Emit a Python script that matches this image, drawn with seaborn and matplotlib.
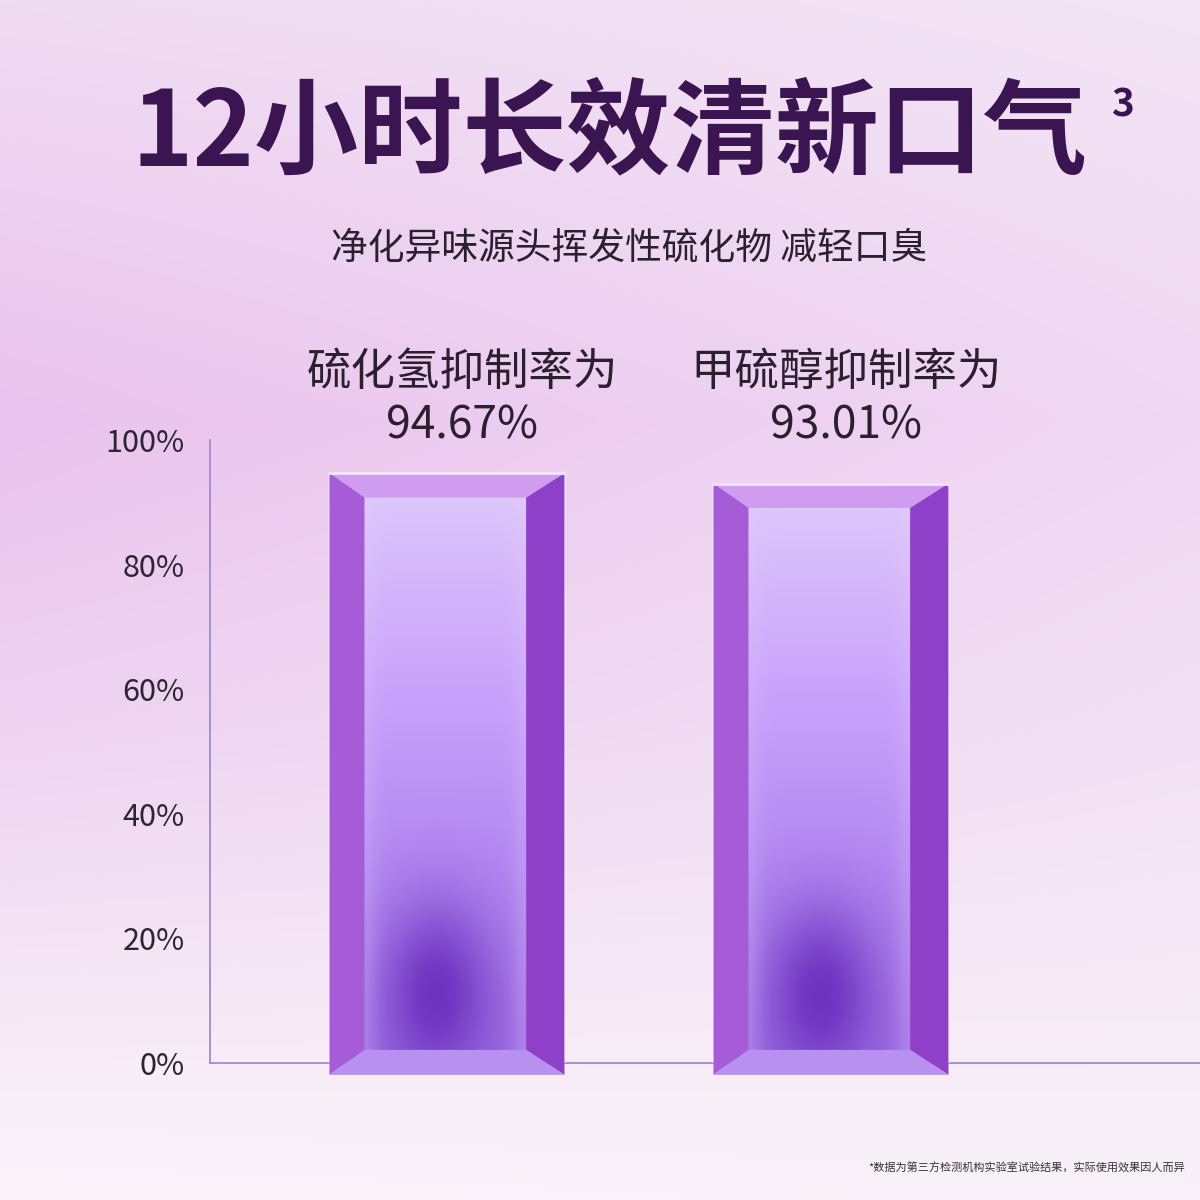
import numpy as np
import matplotlib
matplotlib.use("Agg")
import matplotlib.pyplot as plt
from matplotlib.patches import Polygon
from matplotlib.colors import to_rgb
import seaborn as sns

# 数据
categories = ["硫化氢抑制率为", "甲硫醇抑制率为"]
values = [94.67, 93.01]
value_labels = ["94.67%", "93.01%"]
y_ticks = [0, 20, 40, 60, 80, 100]
y_tick_labels = ["0%", "20%", "40%", "60%", "80%", "100%"]

title = "12小时长效清新口气"
subtitle = "净化异味源头挥发性硫化物 减轻口臭"
footnote = "*数据为第三方检测机构实验室试验结果，实际使用效果因人而异"

sns.set_theme(style="white")
plt.rcParams['font.family'] = ['Noto Sans CJK SC', 'DejaVu Sans']

fig = plt.figure(figsize=(12, 12), dpi=100)


def blend(stops, t):
    # stops: list of (pos, color)
    pos = np.array([s[0] for s in stops])
    cols = np.array([to_rgb(s[1]) for s in stops])
    out = np.zeros(t.shape + (3,))
    for c in range(3):
        out[..., c] = np.interp(t, pos, cols[:, c])
    return out


# 背景渐变
bg = fig.add_axes([0, 0, 1, 1], zorder=-10)
gy, gx = np.mgrid[0:1:300j, 0:1:300j]
bg_img = blend([(0, "#f0dcf2"), (0.35, "#eac3ee"), (0.6, "#eed3f1"),
                (0.85, "#f6e9f6"), (1, "#fbf5fb")], gy)
light = np.clip(gx * 0.5, 0, 1)[..., None]
bg_img = bg_img * (1 - light) + np.array(to_rgb("#f6eef8")) * light
bg.imshow(bg_img, extent=(0, 1, 0, 1), aspect="auto")
bg.axis("off")

# 主图
ax = fig.add_axes([210 / 1200, 137 / 1200, 990 / 1200, 623 / 1200])
ax.set_facecolor("none")
sns.barplot(x=categories, y=values, ax=ax, width=0.612, color="#a66ada",
            saturation=1, zorder=2)

for i, p in enumerate(ax.patches):
    x0, w, h = p.get_x(), p.get_width(), p.get_height()
    x1 = x0 + w
    xi0, xi1 = x0 + 0.149 * w, x1 - 0.162 * w
    yi1, yi0, yo0 = h - 3.9, 2.1, -1.9

    # 内面渐变
    v, u = np.mgrid[0:1:200j, 0:1:100j]
    face = blend([(0, "#dcc6fa"), (0.35, "#c8a2fb"), (0.7, "#b085ef"),
                  (1, "#a070e4")], v)
    spot = np.exp(-((u - 0.45) / 0.34) ** 2 - ((v - 0.9) / 0.16) ** 2)[..., None] * 0.8
    face = face * (1 - spot) + np.array(to_rgb("#5e22b6")) * spot
    edge = (np.exp(-(u / 0.08) ** 2) + np.exp(-((1 - u) / 0.08) ** 2))[..., None] * 0.2
    face = face * (1 - edge) + np.array(to_rgb("#e4d0ff")) * edge
    ax.imshow(face, extent=(xi0, xi1, yi0, yi1), aspect="auto", zorder=3)

    faces = [
        ([(x0, yo0), (x0, h), (xi0, yi1), (xi0, yi0)], "#a55cd6"),
        ([(x1, yo0), (x1, h), (xi1, yi1), (xi1, yi0)], "#8e40c8"),
        ([(x0, h), (x1, h), (xi1, yi1), (xi0, yi1)], "#cf9cf0"),
        ([(x0, yo0), (xi0, yi0), (xi1, yi0), (x1, yo0)], "#b890f0"),
    ]
    for pts, col in faces:
        ax.add_patch(Polygon(pts, closed=True, facecolor=col, edgecolor="none",
                             zorder=4, clip_on=False))
    ax.plot([x0, x1], [h, h], color="#f2e4fb", lw=2, zorder=5, clip_on=False)

    cx = x0 + w / 2 + 0.04
    ax.text(cx, 110.9, categories[i], ha="center", va="center", fontsize=32,
            color="#2a2030", clip_on=False)
    ax.text(cx, 102.4, value_labels[i], ha="center", va="center", fontsize=32,
            color="#2a2030", clip_on=False)

ax.set_xlim(-0.617, 1.961)
ax.set_ylim(0, 100)
ax.set_xticks([])
ax.set_xlabel("")
ax.set_yticks(y_ticks, y_tick_labels)
ax.tick_params(axis="y", length=0, pad=18, labelsize=22, labelcolor="#2c2533")
for s in ["top", "right"]:
    ax.spines[s].set_visible(False)
for s in ["left", "bottom"]:
    ax.spines[s].set_color("#a08ccc")
    ax.spines[s].set_linewidth(1.3)
    ax.spines[s].set_zorder(1)

# 文字
fig.text(610 / 1200, 1 - 134 / 1200, title, ha="center", va="center",
         fontsize=75, fontweight="heavy", color="#3b1552")
fig.text(1122 / 1200, 1 - 105 / 1200, "3", ha="center", va="center",
         fontsize=28, fontweight="bold", color="#3b1552")
fig.text(629 / 1200, 1 - 248 / 1200, subtitle, ha="center", va="center",
         fontsize=26.5, fontweight="medium", color="#2a2030")
fig.text(1185 / 1200, 1 - 1168 / 1200, footnote, ha="right", va="center",
         fontsize=8, color="#333333")

fig.savefig("out.png", dpi=100)
